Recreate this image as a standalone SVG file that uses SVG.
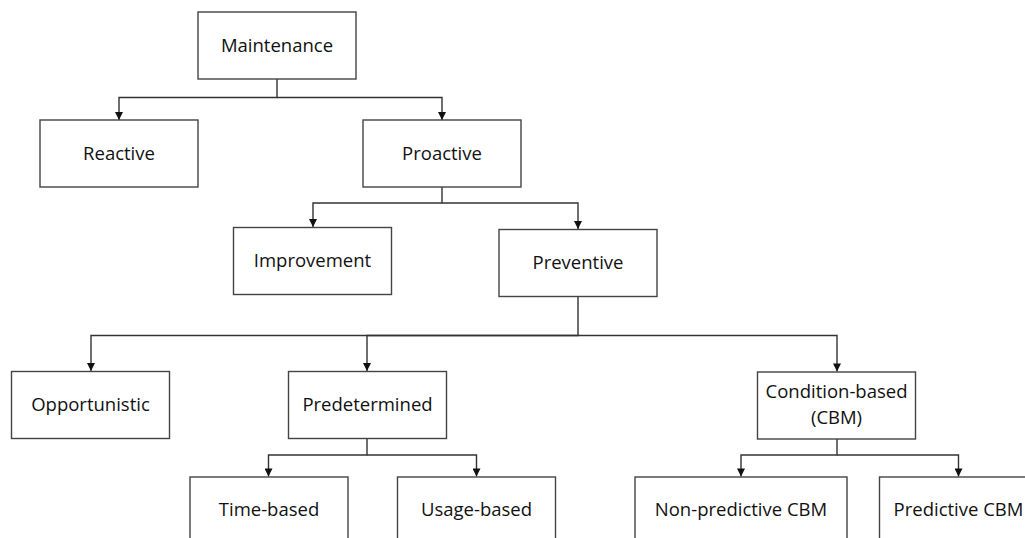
<svg xmlns="http://www.w3.org/2000/svg" width="1025" height="538" viewBox="0 0 1025 538">
<defs>
<style>
.box{fill:#fff;stroke:#444;stroke-width:1.4}
.lbl{font-family:"Open Sans","Noto Sans",sans-serif;font-size:18.5px;fill:#111;text-anchor:middle}
.con{fill:none;stroke:#333;stroke-width:1.4}
</style>
<marker id="arr" viewBox="0 0 10 10" refX="10" refY="5" orient="auto" markerUnits="userSpaceOnUse" markerWidth="9" markerHeight="8">
<path d="M0,0 L10,5 L0,10 z" fill="#111"/>
</marker>
</defs>
<rect width="1025" height="538" fill="#fff"/>
<g id="connectors">
<path class="con" d="M277,79 V97.5 H119 V120" marker-end="url(#arr)"/>
<path class="con" d="M277,97.5 H442 V120" marker-end="url(#arr)"/>
<path class="con" d="M442,187 V203 H313 V227" marker-end="url(#arr)"/>
<path class="con" d="M442,203 H578 V229" marker-end="url(#arr)"/>
<path class="con" d="M578,297 V335.5 H91 V371" marker-end="url(#arr)"/>
<path class="con" d="M578,335.5 H367 V371" marker-end="url(#arr)"/>
<path class="con" d="M578,335.5 H837 V371.5" marker-end="url(#arr)"/>
<path class="con" d="M367,439 V455 H268.5 V476.5" marker-end="url(#arr)"/>
<path class="con" d="M367,455 H476.5 V476.5" marker-end="url(#arr)"/>
<path class="con" d="M837,439 V455 H741 V476.5" marker-end="url(#arr)"/>
<path class="con" d="M837,455 H958.5 V476.5" marker-end="url(#arr)"/>
</g>
<g id="maintenance"><rect class="box" x="198" y="12" width="158" height="67"/><text class="lbl" x="277" y="51.5">Maintenance</text></g>
<g id="reactive"><rect class="box" x="40" y="120" width="158" height="67"/><text class="lbl" x="119" y="159.5">Reactive</text></g>
<g id="proactive"><rect class="box" x="363" y="120" width="158" height="67"/><text class="lbl" x="442" y="159.5">Proactive</text></g>
<g id="improvement"><rect class="box" x="233.5" y="227.5" width="158" height="67"/><text class="lbl" x="312.5" y="267">Improvement</text></g>
<g id="preventive"><rect class="box" x="499" y="229.5" width="158" height="67"/><text class="lbl" x="578" y="269">Preventive</text></g>
<g id="opportunistic"><rect class="box" x="11.5" y="371.5" width="158" height="67"/><text class="lbl" x="90.5" y="411">Opportunistic</text></g>
<g id="predetermined"><rect class="box" x="288.5" y="371.5" width="158" height="67"/><text class="lbl" x="367.5" y="411">Predetermined</text></g>
<g id="condition-based"><rect class="box" x="757.5" y="372" width="158" height="67"/><text class="lbl" x="836.5" y="398">Condition-based</text><text class="lbl" x="836.5" y="424">(CBM)</text></g>
<g id="time-based"><rect class="box" x="190" y="477" width="158" height="80"/><text class="lbl" x="269" y="516">Time-based</text></g>
<g id="usage-based"><rect class="box" x="397.5" y="477" width="158" height="80"/><text class="lbl" x="476.5" y="516">Usage-based</text></g>
<g id="non-predictive-cbm"><rect class="box" x="635" y="477" width="212" height="80"/><text class="lbl" x="741" y="516">Non-predictive CBM</text></g>
<g id="predictive-cbm"><rect class="box" x="879.5" y="477" width="158" height="80"/><text class="lbl" x="958.5" y="516">Predictive CBM</text></g>
</svg>
